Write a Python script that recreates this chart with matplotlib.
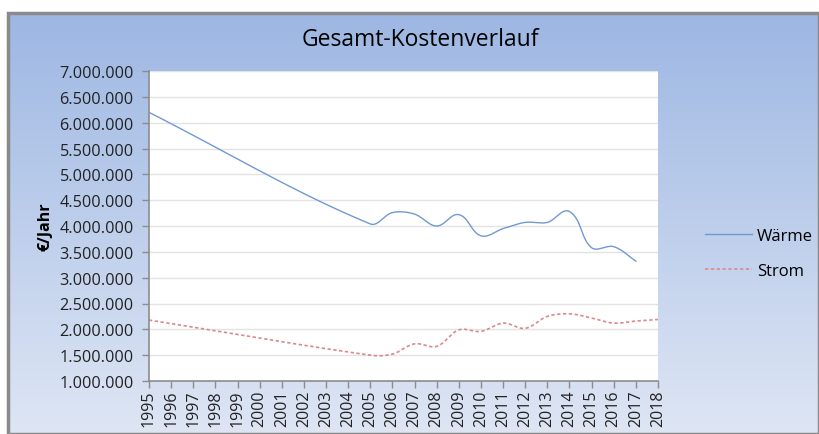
import numpy as np
import matplotlib.pyplot as plt
from matplotlib.patches import Rectangle

# data (None = no value in that year)
years = list(range(1995, 2019))
waerme = [6200000, None, None, None, None, None, None, None, None, None,
          4040000, 4260000, 4230000, 4000000, 4220000, 3810000, 3950000,
          4070000, 4070000, 4280000, 3580000, 3600000, 3320000, None]
strom = [2180000, None, None, None, None, None, None, None, None, None,
         1500000, 1520000, 1720000, 1670000, 1990000, 1960000, 2120000,
         2020000, 2250000, 2300000, 2220000, 2120000, 2160000, 2190000]
y_ticks = list(range(1000000, 7000001, 500000))


def smooth(ax, xs, ys, n=30):
    # smoothed line like Excel: bezier segments, tangent from the neighbours,
    # length limited by the segment itself (done in screen pixels)
    pts = ax.transData.transform(np.column_stack([xs, ys]))
    out = [pts[0]]
    for i in range(len(pts) - 1):
        p0 = pts[max(i - 1, 0)]
        p1 = pts[i]
        p2 = pts[i + 1]
        p3 = pts[min(i + 2, len(pts) - 1)]
        seg_len = np.linalg.norm(p2 - p1)
        d1 = p2 - p0
        d1 = d1 / np.linalg.norm(d1)
        d2 = p3 - p1
        d2 = d2 / np.linalg.norm(d2)
        c1 = p1 + d1 * seg_len / 3
        c2 = p2 - d2 * seg_len / 3
        t = np.linspace(0, 1, n)[1:, None]
        seg = ((1 - t) ** 3) * p1 + 3 * ((1 - t) ** 2) * t * c1 + 3 * (1 - t) * t ** 2 * c2 + t ** 3 * p2
        out.extend(seg)
    out = ax.transData.inverted().transform(np.array(out))
    return out[:, 0], out[:, 1]


def fmt(v):
    return f"{v:,.0f}".replace(",", ".")


plt.rcParams['font.family'] = ['Open Sans', 'DejaVu Sans']

W, H = 819, 435
fig = plt.figure(figsize=(W / 100, H / 100), dpi=100)
fig.patch.set_facecolor('white')

# gradient background of chart area
bg = fig.add_axes([8 / W, 0, (W - 8) / W, (H - 14) / H])
top = np.array([157, 183, 227]) / 255
bot = np.array([222, 230, 244]) / 255
grad = np.linspace(0, 1, 256)[:, None, None] * (bot - top) + top
bg.imshow(grad, aspect='auto', extent=[0, 1, 0, 1])
bg.set_xlim(0, 1)
bg.set_ylim(0, 1)
bg.axis('off')
bg.add_patch(Rectangle((0, 0), 1, 1, fill=False, edgecolor='#8a8a8a', lw=2.5,
                       transform=bg.transAxes, clip_on=False))

ax = fig.add_axes([149 / W, (H - 382) / H, (658 - 149) / W, 310 / H])
ax.set_facecolor('white')
ax.set_xlim(1995, 2018)
ax.set_ylim(1000000, 7000000)

xw = [x for x, v in zip(years, waerme) if v is not None]
yw = [v for v in waerme if v is not None]
xs = [x for x, v in zip(years, strom) if v is not None]
ys = [v for v in strom if v is not None]

fig.canvas.draw()
sx, sy = smooth(ax, xw, yw)
ax.plot(sx, sy, color='#7099d3', lw=1.0, label='Wärme')
sx, sy = smooth(ax, xs, ys)
ax.plot(sx, sy, color='#d98a8c', lw=1.2, ls=(0, (2, 1.5)), label='Strom')

ax.set_yticks(y_ticks)
ax.set_yticklabels([fmt(v) for v in y_ticks], fontsize=11.7, color='#222222')
ax.set_xticks(years)
ax.set_xticklabels([str(y) for y in years], rotation=90, fontsize=11.5, color='#222222')
ax.grid(axis='y', color='#e3e3e3', lw=1)
ax.set_axisbelow(True)
for s in ['top', 'right']:
    ax.spines[s].set_visible(False)
for s in ['left', 'bottom']:
    ax.spines[s].set_color('#8c8c8c')
    ax.spines[s].set_linewidth(1.2)
ax.tick_params(axis='both', color='#8c8c8c', length=5, width=1)
ax.tick_params(axis='y', pad=6)
ax.tick_params(axis='x', pad=1)

ax.set_ylabel('€/Jahr', fontsize=11.5, fontweight='bold', labelpad=4)
fig.text(420 / W, 1 - 40 / H, 'Gesamt-Kostenverlauf', ha='center', va='center', fontsize=16.5)

fig.legend(*ax.get_legend_handles_labels(), loc='center left',
           bbox_to_anchor=(705 / W, 1 - 254.5 / H), frameon=False, borderpad=0,
           borderaxespad=0, fontsize=12, handlelength=2.8, handletextpad=0.3,
           labelspacing=1.15)

fig.savefig('out.png', dpi=100)
